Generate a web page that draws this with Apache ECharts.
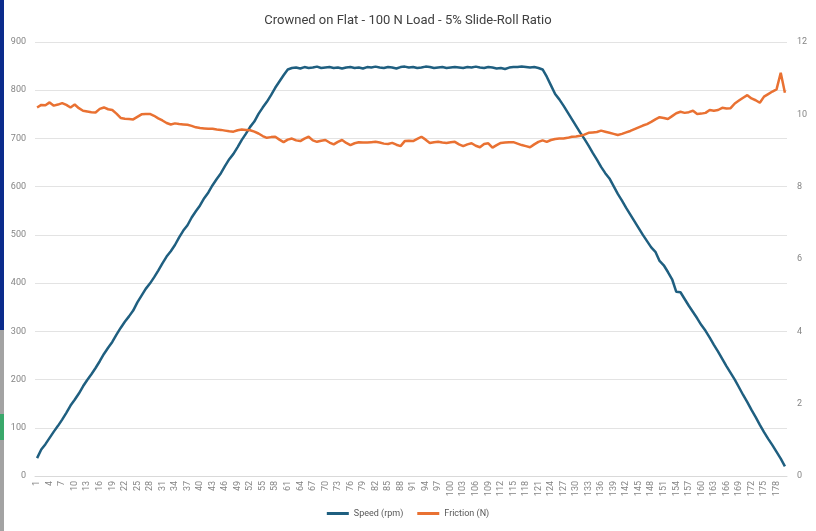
<!DOCTYPE html>
<html>
<head>
<meta charset="utf-8">
<script src="https://cdn.jsdelivr.net/npm/echarts@6/dist/echarts.min.js"></script>
<style>
  html, body { margin: 0; padding: 0; background: #fff; }
  #chart { width: 816px; height: 531px; }
</style>
</head>
<body>
<div id="chart"></div>
<script>
const title = 'Crowned on Flat - 100 N Load - 5% Slide-Roll Ratio';

const categories = [];
for (let i = 1; i <= 180; i++) categories.push(String(i));

// Speed (rpm)
const speed = [
  37, 55, 66, 79, 92, 104, 117, 131, 146, 158,
  171, 186, 199, 211, 224, 238, 253, 266, 278, 293,
  307, 320, 331, 343, 360, 374, 388, 399, 412, 426,
  441, 455, 466, 479, 495, 509, 520, 536, 549, 561,
  576, 588, 603, 616, 628, 643, 657, 668, 682, 697,
  710, 724, 735, 751, 764, 776, 790, 805, 818, 831,
  843, 846, 847, 845, 848, 846, 847, 849, 846, 847,
  848, 846, 847, 845, 847, 848, 846, 847, 845, 848,
  847, 849, 847, 846, 848, 847, 845, 848, 849, 847,
  848, 846, 847, 849, 848, 846, 847, 848, 846, 847,
  848, 847, 846, 848, 847, 849, 847, 846, 848, 847,
  845, 846, 844, 847, 848, 848, 849, 848, 847, 848,
  846, 843, 828, 810, 792, 781, 768, 754, 740, 726,
  712, 699, 685, 670, 656, 641, 628, 617, 601, 585,
  571, 556, 542, 528, 514, 500, 487, 474, 465, 446,
  437, 423, 408, 382, 381, 367, 353, 340, 327, 313,
  301, 287, 272, 258, 243, 228, 214, 200, 184, 168,
  153, 137, 122, 106, 91, 77, 64, 50, 36, 20
];

// Friction (N)
const friction = [
  10.19, 10.26, 10.25, 10.33, 10.24, 10.27, 10.31, 10.26, 10.19, 10.27,
  10.17, 10.10, 10.08, 10.06, 10.05, 10.15, 10.19, 10.14, 10.12, 10.02,
  9.90, 9.88, 9.87, 9.86, 9.93, 10.00, 10.01, 10.01, 9.96, 9.89,
  9.83, 9.76, 9.72, 9.75, 9.73, 9.72, 9.71, 9.68, 9.64, 9.62,
  9.61, 9.60, 9.60, 9.58, 9.57, 9.55, 9.53, 9.52, 9.56, 9.58,
  9.57, 9.56, 9.52, 9.47, 9.40, 9.35, 9.37, 9.38, 9.30, 9.23,
  9.30, 9.33, 9.28, 9.26, 9.33, 9.38, 9.28, 9.24, 9.27, 9.29,
  9.22, 9.17, 9.24, 9.29, 9.21, 9.15, 9.20, 9.23, 9.22, 9.22,
  9.23, 9.24, 9.22, 9.19, 9.18, 9.21, 9.16, 9.12, 9.26, 9.27,
  9.26, 9.32, 9.38, 9.30, 9.21, 9.23, 9.24, 9.22, 9.21, 9.23,
  9.24, 9.17, 9.12, 9.17, 9.20, 9.13, 9.09, 9.18, 9.20, 9.08,
  9.15, 9.21, 9.22, 9.23, 9.23, 9.19, 9.15, 9.12, 9.09, 9.17,
  9.24, 9.28, 9.24, 9.29, 9.32, 9.33, 9.33, 9.35, 9.38, 9.39,
  9.41, 9.44, 9.49, 9.50, 9.51, 9.55, 9.52, 9.49, 9.46, 9.43,
  9.46, 9.50, 9.54, 9.59, 9.64, 9.69, 9.73, 9.79, 9.86, 9.92,
  9.90, 9.87, 9.95, 10.03, 10.07, 10.04, 10.06, 10.10, 10.01, 10.02,
  10.04, 10.12, 10.10, 10.12, 10.18, 10.16, 10.17, 10.30, 10.38, 10.46,
  10.53, 10.44, 10.39, 10.32, 10.49, 10.56, 10.63, 10.69, 11.15, 10.60
];

const leftTicks = { min: 0, max: 900, interval: 100 };
const rightTicks = { min: 0, max: 12, interval: 2 };

const chart = echarts.init(document.getElementById('chart'));
const labelStyle = { color: '#858585', fontSize: 9, fontFamily: 'Roboto' };

chart.setOption({
  animation: false,
  backgroundColor: '#fff',
  title: {
    text: title,
    left: 'center',
    top: 9,
    textStyle: { fontSize: 13, fontWeight: 'normal', color: '#404040', fontFamily: 'Roboto' }
  },
  graphic: [
    { type: 'rect', shape: { x: 0, y: 0, width: 4, height: 330 }, style: { fill: '#0b2b8c' } },
    { type: 'rect', shape: { x: 0, y: 330, width: 4, height: 201 }, style: { fill: '#a3a3a3' } },
    { type: 'rect', shape: { x: 0, y: 414, width: 4, height: 26 }, style: { fill: '#3aa86b' } }
  ],
  legend: {
    bottom: 8,
    left: 'center',
    itemWidth: 22,
    itemHeight: 3,
    itemGap: 14,
    icon: 'rect',
    textStyle: { color: '#595959', fontSize: 9, fontFamily: 'Roboto' },
    data: ['Speed (rpm)', 'Friction (N)']
  },
  grid: { left: 35, right: 29, top: 42, bottom: 55 },
  xAxis: {
    type: 'category',
    data: categories,
    boundaryGap: true,
    axisLine: { lineStyle: { color: '#d9d9d9' } },
    axisTick: { show: false },
    axisLabel: { ...labelStyle, interval: 2, rotate: 90, margin: 5 }
  },
  yAxis: [
    {
      type: 'value',
      ...leftTicks,
      axisLine: { show: false },
      axisTick: { show: false },
      axisLabel: { ...labelStyle, margin: 9 },
      splitLine: { lineStyle: { color: '#e3e3e3' } }
    },
    {
      type: 'value',
      ...rightTicks,
      position: 'right',
      axisLine: { show: false },
      axisTick: { show: false },
      axisLabel: { ...labelStyle, margin: 10 },
      splitLine: { show: false }
    }
  ],
  series: [
    {
      name: 'Speed (rpm)',
      type: 'line',
      data: speed,
      yAxisIndex: 0,
      symbol: 'none',
      color: '#1f5f80',
      lineStyle: { width: 2.5, color: '#1f5f80' }
    },
    {
      name: 'Friction (N)',
      type: 'line',
      data: friction,
      yAxisIndex: 1,
      symbol: 'none',
      color: '#e97132',
      lineStyle: { width: 2.5, color: '#e97132' }
    }
  ]
});
</script>
</body>
</html>
